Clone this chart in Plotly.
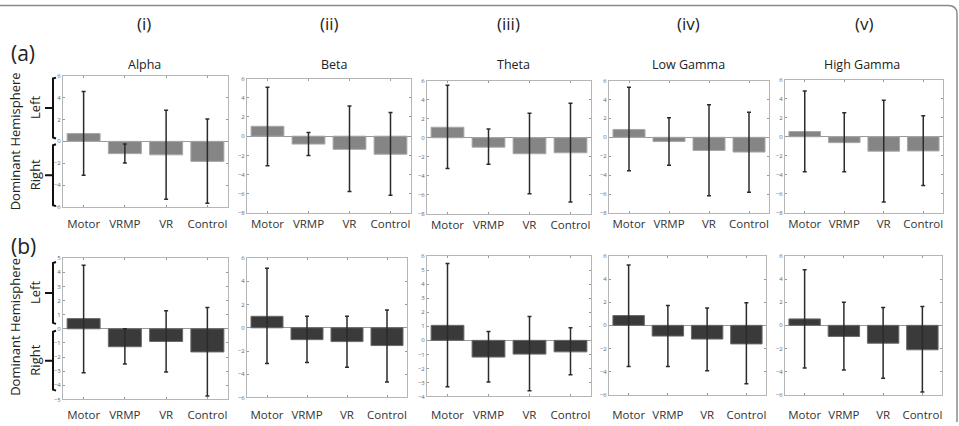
import plotly.graph_objects as go

W, H = 959, 426

bands = ["Alpha", "Beta", "Theta", "Low Gamma", "High Gamma"]
groups = ["Motor", "VRMP", "VR", "Control"]
col_labels = ["(i)", "(ii)", "(iii)", "(iv)", "(v)"]
row_labels = ["(a)", "(b)"]

# Row (a): means and error-bar ends
a_alpha = [0.72, -1.12, -1.23, -1.83]
a_beta = [1.03, -0.82, -1.37, -1.88]
a_theta = [1.10, -0.99, -1.68, -1.58]
a_lowg = [0.83, -0.45, -1.39, -1.56]
a_highg = [0.55, -0.62, -1.52, -1.49]

a_alpha_hi = [4.56, -0.24, 2.85, 2.04]
a_beta_hi = [5.10, 0.38, 3.15, 2.47]
a_theta_hi = [5.50, 0.92, 2.57, 3.63]
a_lowg_hi = [5.30, 2.08, 3.44, 2.64]
a_highg_hi = [4.80, 2.53, 3.84, 2.21]

a_alpha_lo = [-3.09, -1.98, -5.28, -5.64]
a_beta_lo = [-3.08, -2.02, -5.75, -6.16]
a_theta_lo = [-3.22, -2.77, -5.89, -6.75]
a_lowg_lo = [-3.54, -2.95, -6.18, -5.80]
a_highg_lo = [-3.67, -3.67, -6.85, -5.12]

# Row (b): means and error-bar ends
b_alpha = [0.72, -1.27, -0.90, -1.64]
b_beta = [0.99, -1.02, -1.19, -1.53]
b_theta = [1.07, -1.19, -0.98, -0.82]
b_lowg = [0.85, -0.93, -1.19, -1.61]
b_highg = [0.56, -0.96, -1.55, -2.12]

b_alpha_hi = [4.50, 0.00, 1.27, 1.50]
b_beta_hi = [5.14, 0.99, 0.99, 1.53]
b_theta_hi = [5.48, 0.63, 1.70, 0.89]
b_lowg_hi = [5.23, 1.72, 1.50, 1.95]
b_highg_hi = [4.83, 2.00, 1.55, 1.64]

b_alpha_lo = [-3.12, -2.49, -3.05, -4.76]
b_beta_lo = [-3.08, -2.99, -3.39, -4.66]
b_theta_lo = [-3.31, -2.96, -3.59, -2.45]
b_lowg_lo = [-3.56, -3.56, -3.93, -5.06]
b_highg_lo = [-3.70, -3.87, -4.58, -5.79]

# y-axis ranges and tick steps per panel
a_ranges = [[-6, 6], [-8, 6], [-8, 6], [-8, 6], [-8, 6]]
a_dticks = [2, 2, 2, 2, 2]
b_ranges = [[-5, 5], [-6, 6], [-4, 6], [-6, 6], [-6, 6]]
b_dticks = [1, 2, 1, 2, 2]

rows = [
    dict(means=[a_alpha, a_beta, a_theta, a_lowg, a_highg],
         his=[a_alpha_hi, a_beta_hi, a_theta_hi, a_lowg_hi, a_highg_hi],
         los=[a_alpha_lo, a_beta_lo, a_theta_lo, a_lowg_lo, a_highg_lo],
         ranges=a_ranges, dticks=a_dticks, color="#858585", line="#a8a8a8", label_y=222),
    dict(means=[b_alpha, b_beta, b_theta, b_lowg, b_highg],
         his=[b_alpha_hi, b_beta_hi, b_theta_hi, b_lowg_hi, b_highg_hi],
         los=[b_alpha_lo, b_beta_lo, b_theta_lo, b_lowg_lo, b_highg_lo],
         ranges=b_ranges, dticks=b_dticks, color="#3a3a3a", line="#6a6a6a", label_y=417),
]

# panel boxes in pixels (x0, x1, y0, y1)
boxes = [
    [(63, 228, 73, 207), (247, 411, 76, 213), (427, 591, 78, 214), (609, 769, 78, 213), (785, 943, 77, 213)],
    [(63, 228, 259, 403), (247, 407, 259, 401), (427, 591, 257, 400), (609, 766, 257, 398), (785, 942, 257, 398)],
]

FONT = "Open Sans"

def px(x):
    return x / W

def py(y):
    return 1 - y / H

fig = go.Figure()
layout = {}
idx = 0
for r, row in enumerate(rows):
    for c in range(5):
        idx += 1
        sfx = "" if idx == 1 else str(idx)
        x0, x1, y0, y1 = boxes[r][c]
        m = row["means"][c]
        hi = row["his"][c]
        lo = row["los"][c]
        fig.add_trace(go.Bar(
            x=groups, y=m, width=0.8,
            marker=dict(color=row["color"], line=dict(color=row["line"], width=1)),
            error_y=dict(type="data", symmetric=False,
                         array=[h - v for h, v in zip(hi, m)],
                         arrayminus=[v - l for v, l in zip(m, lo)],
                         color="#2b2b2b", thickness=1.5, width=2),
            xaxis="x" + sfx, yaxis="y" + sfx, showlegend=False,
        ))
        standoff = max(0, row["label_y"] - y1 - 9)
        layout["xaxis" + sfx] = dict(
            domain=[px(x0), px(x1)], anchor="y" + sfx,
            showline=True, linecolor="#b5b5b5", linewidth=1, mirror="ticks",
            ticks="inside", ticklen=2, tickcolor="#999",
            ticklabelstandoff=standoff,
            tickfont=dict(size=11.5, color="#333", family=FONT),
            showgrid=False, fixedrange=True,
        )
        layout["yaxis" + sfx] = dict(
            domain=[py(y1), py(y0)], anchor="x" + sfx,
            range=row["ranges"][c], dtick=row["dticks"][c], tick0=0,
            showline=True, linecolor="#b5b5b5", linewidth=1, mirror="ticks",
            ticks="inside", ticklen=2, tickcolor="#999",
            tickfont=dict(size=6, color="#666", family=FONT),
            showgrid=False, zeroline=True, zerolinecolor="#9a9a9a", zerolinewidth=1,
            fixedrange=True,
        )

annotations = []

def note(text, x, y, size, angle=0):
    annotations.append(dict(text=text, x=px(x), y=py(y), xref="paper", yref="paper",
                            xanchor="center", yanchor="middle", textangle=angle,
                            showarrow=False, font=dict(size=size, color="#222", family=FONT)))

# column headers
for lbl, xc in zip(col_labels, [144, 329, 508, 688, 864]):
    note(lbl, xc, 20, 17)
# band titles
for b, xc in zip(bands, [144, 334, 513, 688, 862]):
    note(b, xc, 62, 12.5)
# row labels
for lbl, yc in zip(row_labels, [50, 247]):
    note(lbl, 23, yc, 21)

shapes = []
for (top_l, bot_l, top_r, bot_r, yc) in [(75, 137, 143, 206, 140), (263, 326, 333, 394, 329)]:
    note("Dominant Hemisphere", 15, yc, 13, -90)
    note("Left", 35, (top_l + bot_l) / 2, 13, -90)
    note("Right", 35, (top_r + bot_r) / 2, 13, -90)
    for t, bt in [(top_l, bot_l), (top_r, bot_r)]:
        mid = (t + bt) / 2
        xs = 53
        path = (f"M {px(xs+3)},{py(t)} L {px(xs)},{py(t+1)} L {px(xs)},{py(bt-1)} L {px(xs+3)},{py(bt)} "
                f"M {px(xs)},{py(mid)} L {px(xs-8)},{py(mid)}")
        shapes.append(dict(type="path", path=path, xref="paper", yref="paper",
                           line=dict(color="#111", width=2)))

# outer rounded border (top and right edges visible)
shapes.append(dict(type="path", xref="paper", yref="paper",
                   path=f"M {px(0)},{py(1.5)} L {px(948)},{py(1.5)} Q {px(957)},{py(1.5)} {px(957)},{py(10)} L {px(957)},{py(426)}",
                   line=dict(color="#8a8a8a", width=1.5)))

fig.update_layout(
    width=W, height=H, margin=dict(l=0, r=0, t=0, b=0),
    paper_bgcolor="white", plot_bgcolor="white",
    annotations=annotations, shapes=shapes, bargap=0.2,
    **layout,
)

fig.write_html("out.html")
